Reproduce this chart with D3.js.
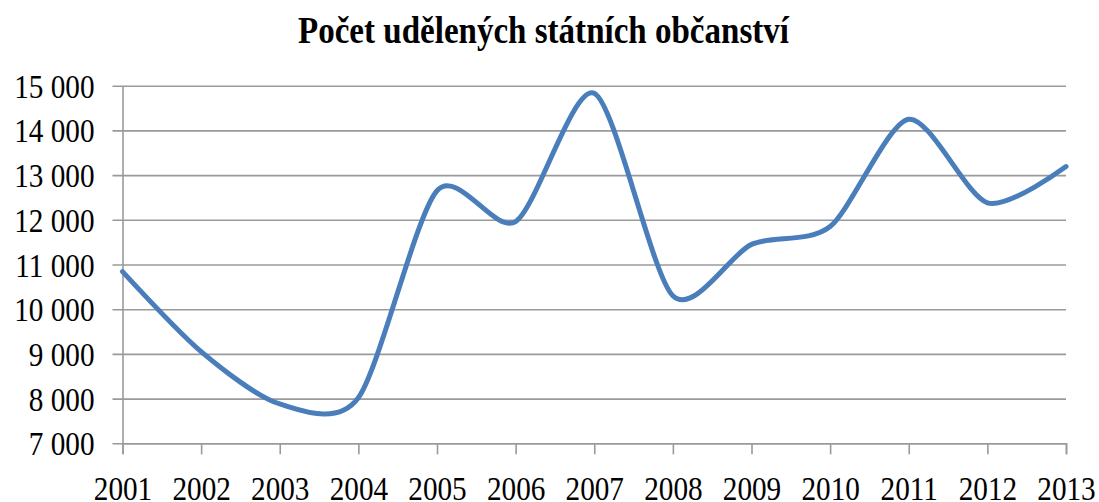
<!DOCTYPE html>
<html>
<head>
<meta charset="utf-8">
<script src="https://cdn.jsdelivr.net/npm/d3@7"></script>
<style>
  body { margin: 0; background: #fff; }
  svg { display: block; }
  .axis text { font-family: "Liberation Serif", "Times New Roman", serif; font-size: 34px; fill: #000; }
</style>
</head>
<body>
<div id="chart"></div>
<script>
// Počet udělených státních občanství, 2001 - 2013

var years = ["2001", "2002", "2003", "2004", "2005", "2006", "2007",
             "2008", "2009", "2010", "2011", "2012", "2013"];
var grants = [10840, 9050, 7880, 8020, 12650, 11960, 14830,
              10300, 11450, 11850, 14250, 12380, 13190];
var yTicks = [7000, 8000, 9000, 10000, 11000, 12000, 13000, 14000, 15000];
var title = "Počet udělených státních občanství";

var svgWidth = 1099;
var svgHeight = 502;

var plotLeft = 122.5, plotRight = 1066, plotTop = 85.7, plotBottom = 443.3;
var squeeze = 0.86; // the original text is narrow

var svg = d3.select("#chart")
  .append("svg")
  .attr("width", svgWidth)
  .attr("height", svgHeight);

var x = d3.scalePoint().domain(years).range([plotLeft, plotRight]);
var y = d3.scaleLinear().domain([7000, 15000]).range([plotBottom, plotTop]);

var fmt = function(d) {
  return d3.format(",")(d).replace(",", " ");
};

// gridlines (they start left of the axis, like the tick marks)
var grid = svg.append("g")
  .attr("class", "grid")
  .attr("transform", `translate(${plotLeft - 10}, 0)`)
  .call(d3.axisRight(y).tickValues(yTicks).tickSize(plotRight - plotLeft + 10).tickFormat(""));
grid.select(".domain").remove();
grid.selectAll("line").attr("stroke", "#9a9a9a").attr("stroke-width", 1.6);

// y axis with labels
var yAxis = svg.append("g")
  .attr("class", "axis")
  .attr("transform", `translate(${plotLeft}, 0)`)
  .call(d3.axisLeft(y).tickValues(yTicks).tickSize(0).tickPadding(28).tickFormat(fmt));
yAxis.select(".domain").attr("stroke", "#9a9a9a").attr("stroke-width", 1.6);
yAxis.selectAll("text")
  .attr("x", -28 / squeeze)
  .attr("dy", "0.34em")
  .attr("transform", `scale(${squeeze},1)`);

// x axis
var xAxis = svg.append("g")
  .attr("class", "axis")
  .attr("transform", `translate(0, ${plotBottom})`)
  .call(d3.axisBottom(x).tickSize(11).tickSizeOuter(11).tickPadding(21.6));
xAxis.select(".domain").attr("stroke", "#9a9a9a").attr("stroke-width", 1.6);
xAxis.selectAll("line").attr("stroke", "#9a9a9a").attr("stroke-width", 1.6);
xAxis.selectAll("text")
  .attr("transform", `scale(${squeeze},1)`);

// smoothed line
var line = d3.line()
  .x((d, i) => x(years[i]))
  .y(d => y(d))
  .curve(d3.curveCardinal.tension(0.2));

svg.append("path")
  .datum(grants)
  .attr("d", line)
  .attr("fill", "none")
  .attr("stroke", "#4a7ebb")
  .attr("stroke-width", 5)
  .attr("stroke-linecap", "round");

// title
svg.append("text")
  .attr("x", 543.5)
  .attr("y", 43)
  .attr("text-anchor", "middle")
  .attr("textLength", 491)
  .attr("lengthAdjust", "spacingAndGlyphs")
  .style("font-family", "\"Liberation Serif\", \"Times New Roman\", serif")
  .style("font-weight", "bold")
  .style("font-size", "37px")
  .text(title);
</script>
</body>
</html>
